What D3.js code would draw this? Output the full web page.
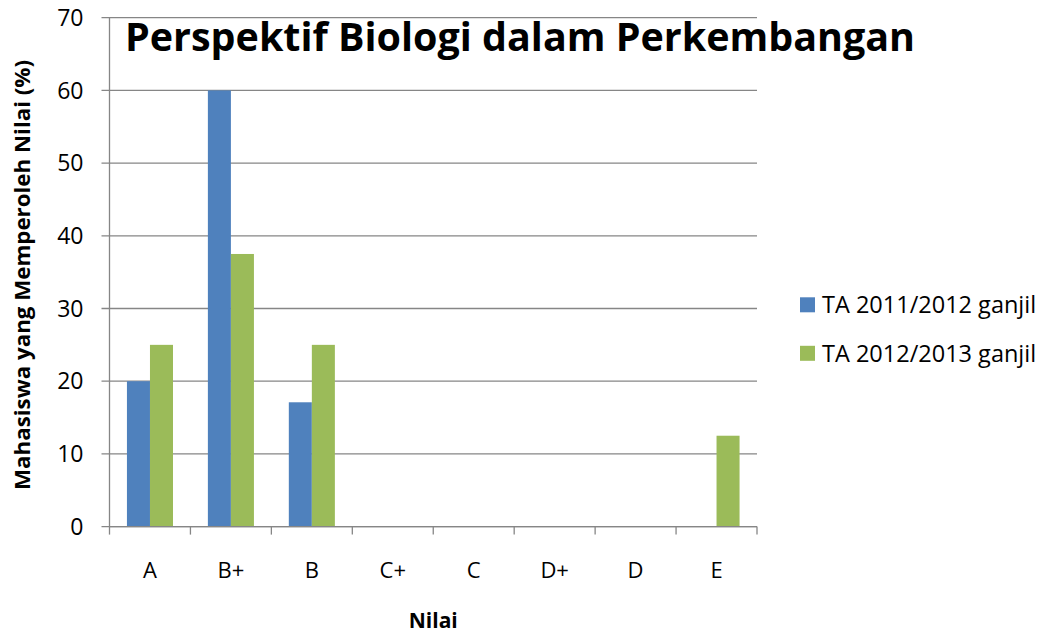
<!DOCTYPE html>
<html>
<head>
<meta charset="utf-8">
<script src="https://cdn.jsdelivr.net/npm/d3@7"></script>
<style>
  body { margin: 0; background: #fff; }
  svg text { font-family: "Open Sans", sans-serif; fill: #000; }
</style>
</head>
<body>
<div id="chart"></div>
<script>
'use strict';

// ── Data ─────────────────────────────────────────────
const grades = ['A', 'B+', 'B', 'C+', 'C', 'D+', 'D', 'E'];
const seriesNames = ['TA 2011/2012 ganjil', 'TA 2012/2013 ganjil'];
const values2011 = [20, 60, 17.1, 0, 0, 0, 0, 0];
const values2012 = [25, 37.5, 25, 0, 0, 0, 0, 12.5];
const yTicks = [0, 10, 20, 30, 40, 50, 60, 70];
const colours = ['#4F81BD', '#9BBB59'];

// ── Layout ───────────────────────────────────────────
const totalW = 1043, totalH = 636;
const margin = { top: 17.7, left: 109.5, right: 1043 - 757, bottom: 636 - 526.6 };
const W = totalW - margin.left - margin.right;
const H = totalH - margin.top - margin.bottom;

const svg = d3.select('#chart').append('svg')
  .attr('width', totalW).attr('height', totalH);
const chart = svg.append('g')
  .attr('transform', `translate(${margin.left},${margin.top})`);

// ── Scales ───────────────────────────────────────────
const x = d3.scaleBand().domain(grades).range([0, W]);
const inner = d3.scaleBand().domain([0, 1])
  .range([x.bandwidth() * 0.2155, x.bandwidth() * 0.7845]);
const y = d3.scaleLinear().domain([0, 70]).range([H, 0]);

// ── Gridlines + y axis ───────────────────────────────
chart.append('g')
  .selectAll('line')
  .data(yTicks)
  .join('line')
  .attr('x1', -8).attr('x2', W)
  .attr('y1', d => y(d)).attr('y2', d => y(d))
  .attr('stroke', '#868686').attr('stroke-width', 1.3);

chart.append('line')
  .attr('x1', 0).attr('x2', 0).attr('y1', 0).attr('y2', H)
  .attr('stroke', '#868686').attr('stroke-width', 1.3);

chart.append('g')
  .selectAll('text')
  .data(yTicks)
  .join('text')
  .attr('x', -26)
  .attr('y', d => y(d))
  .attr('dy', '0.36em')
  .attr('text-anchor', 'end')
  .attr('font-size', 23)
  .text(d => d);

// ── Bars ─────────────────────────────────────────────
[values2011, values2012].forEach((vals, s) => {
  chart.append('g')
    .selectAll('rect')
    .data(grades.map((g, i) => ({ g, v: vals[i] })).filter(d => d.v > 0))
    .join('rect')
    .attr('x', d => x(d.g) + inner(s))
    .attr('y', d => y(d.v))
    .attr('width', inner.bandwidth())
    .attr('height', d => H - y(d.v))
    .attr('fill', colours[s]);
});

// ── X axis ───────────────────────────────────────────
const xAxis = chart.append('g');
xAxis.append('line')
  .attr('x1', 0).attr('x2', W).attr('y1', H).attr('y2', H)
  .attr('stroke', '#868686').attr('stroke-width', 1.3);
xAxis.selectAll('line.tick')
  .data(d3.range(grades.length + 1))
  .join('line')
  .attr('class', 'tick')
  .attr('x1', i => i * x.step()).attr('x2', i => i * x.step())
  .attr('y1', H).attr('y2', H + 8)
  .attr('stroke', '#868686').attr('stroke-width', 1.3);
xAxis.selectAll('text')
  .data(grades)
  .join('text')
  .attr('x', d => x(d) + x.bandwidth() / 2)
  .attr('y', H + 43)
  .attr('dy', '0.36em')
  .attr('text-anchor', 'middle')
  .attr('font-size', 22)
  .text(d => d);

// ── Titles ───────────────────────────────────────────
svg.append('text')
  .attr('x', 520).attr('y', 51)
  .attr('text-anchor', 'middle')
  .attr('font-size', 39.5)
  .attr('font-weight', 'bold')
  .attr('textLength', 790)
  .attr('lengthAdjust', 'spacingAndGlyphs')
  .text('Perspektif Biologi dalam Perkembangan');

svg.append('text')
  .attr('x', margin.left + W / 2).attr('y', 620)
  .attr('dy', '0.36em')
  .attr('text-anchor', 'middle')
  .attr('font-size', 21)
  .attr('font-weight', 'bold')
  .text('Nilai');

svg.append('text')
  .attr('transform', `translate(22,275) rotate(-90)`)
  .attr('dy', '0.36em')
  .attr('text-anchor', 'middle')
  .attr('font-size', 21.5)
  .attr('font-weight', 'bold')
  .attr('textLength', 430)
  .attr('lengthAdjust', 'spacingAndGlyphs')
  .text('Mahasiswa yang Memperoleh Nilai (%)');

// ── Legend ───────────────────────────────────────────
const legend = svg.append('g').attr('transform', 'translate(800,297.3)');
seriesNames.forEach((name, i) => {
  const row = legend.append('g').attr('transform', `translate(0,${i * 48.5})`);
  row.append('rect').attr('width', 15).attr('height', 15).attr('fill', colours[i]);
  row.append('text')
    .attr('x', 22).attr('y', 7.5)
    .attr('dy', '0.36em')
    .attr('font-size', 23.5)
    .text(name);
});
</script>
</body>
</html>
